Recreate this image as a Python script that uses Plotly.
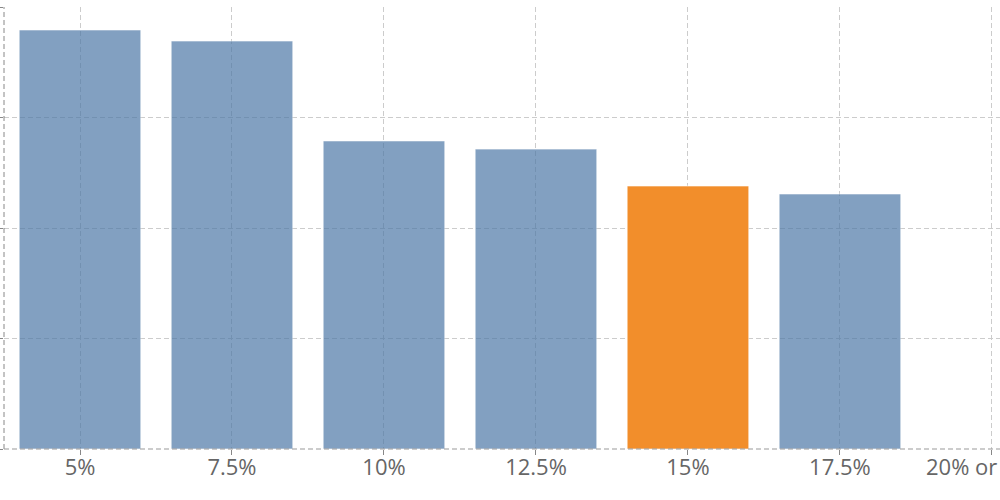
import plotly.graph_objects as go

# Rate categories on the x axis, bar heights
categories = ['5%', '7.5%', '10%', '12.5%', '15%', '17.5%', '20% or more']
values = [18.96, 18.46, 13.94, 13.57, 11.90, 11.54, None]
highlight = '15%'

# Highlighted bar is solid orange, the rest are translucent blue
colors = ['#F28E2B' if c == highlight else '#4E79A7' for c in categories]
opacity = [1.0 if c == highlight else 0.7 for c in categories]

bar = go.Bar(
    x=categories,
    y=values,
    width=0.8,
    marker=dict(color=colors, opacity=opacity,
                line=dict(color='rgba(255,255,255,0.6)', width=1)),
    hoverinfo='x+y',
)

layout = go.Layout(
    width=1000,
    height=500,
    margin=dict(l=4, r=0, t=7, b=51, autoexpand=False),
    plot_bgcolor='white',
    paper_bgcolor='white',
    showlegend=False,
    font=dict(family='Open Sans', size=22, color='#666666'),
    xaxis=dict(
        type='category',
        range=[-0.5, 6.053],
        automargin=False,
        showgrid=True,
        gridcolor='#cccccc',
        griddash='5px,3px',
        gridwidth=1,
        ticks='outside',
        ticklen=5,
        tickcolor='#888888',
        ticklabelstandoff=-6,
        showline=False,
        zeroline=False,
    ),
    yaxis=dict(
        range=[0, 20],
        dtick=5,
        automargin=False,
        showgrid=True,
        gridcolor='#cccccc',
        griddash='5px,3px',
        gridwidth=1,
        ticks='outside',
        ticklen=4,
        tickcolor='#888888',
        showticklabels=False,
        showline=False,
        zeroline=False,
    ),
    # dashed axis lines on the left and bottom
    shapes=[
        dict(type='line', xref='paper', yref='paper', x0=0, x1=0, y0=0, y1=1,
             line=dict(color='#888888', width=1, dash='5px,3px')),
        dict(type='line', xref='paper', yref='paper', x0=0, x1=1, y0=0, y1=0,
             line=dict(color='#999999', width=1, dash='5px,3px')),
    ],
)

fig = go.Figure(data=[bar], layout=layout)
# drop the browser's default page margin so the chart sits at the top-left corner
fig.write_html('out.html', config={'displayModeBar': False},
               post_script="document.body.style.margin = '0';")
